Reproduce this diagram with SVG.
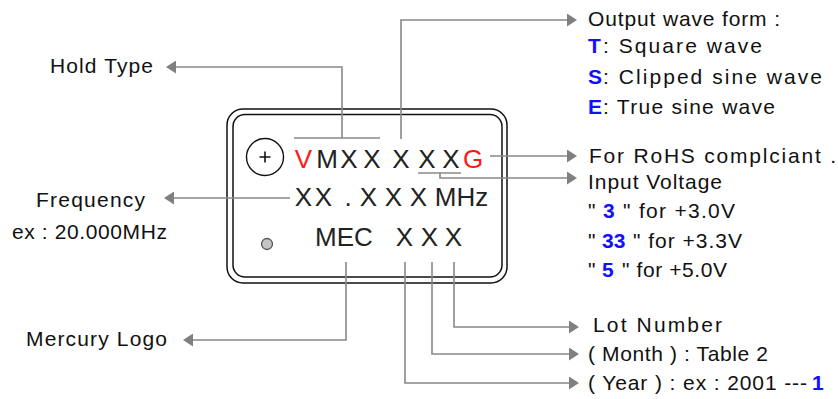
<svg xmlns="http://www.w3.org/2000/svg" width="838" height="399" viewBox="0 0 838 399">
<style>
  .lbl { font-family: "Liberation Sans", Arial, sans-serif; font-size: 21px; fill: #111; }
  .key { font-family: "Liberation Sans", Arial, sans-serif; font-size: 21px; font-weight: bold; fill: #1010ff; }
  .chip { font-family: "Liberation Sans", Arial, sans-serif; font-size: 26px; fill: #222; text-anchor: middle; }
  .red { fill: #ff1a1a; }
  .box { fill: none; stroke: #111; stroke-width: 1.5; }
  .con { fill: none; stroke: #888; stroke-width: 1.6; }
</style>
<defs>
  <marker id="arr" viewBox="0 0 10 13" refX="0" refY="6.5" markerWidth="10" markerHeight="13" markerUnits="userSpaceOnUse" orient="auto">
    <path d="M0,0 L10,6.5 L0,13 Z" fill="#808080"/>
  </marker>
</defs>
<rect width="838" height="399" fill="#fff"/>

<g id="chip">
  <rect class="box" x="227" y="109" width="280" height="174" rx="16" ry="16"/>
  <rect class="box" x="233" y="114.5" width="269" height="162.5" rx="12" ry="12"/>
  <circle cx="265" cy="157" r="18.5" fill="none" stroke="#111" stroke-width="1.4"/>
  <path d="M259.5,157 H270.5 M265,151.5 V162.5" stroke="#111" stroke-width="1.6"/>
  <circle cx="267" cy="244" r="5.5" fill="#c4c4c4" stroke="#555" stroke-width="1.3"/>
  <text class="chip" y="168"><tspan class="red" x="303.5">V</tspan><tspan x="327 349 372">MXX</tspan><tspan x="401">X</tspan><tspan x="427 451">XX</tspan><tspan class="red" x="473">G</tspan></text>
  <text class="chip" y="206"><tspan x="303.5 323.5">XX</tspan><tspan x="348">.</tspan><tspan x="368.5 393.5 418.5">XXX</tspan><tspan x="461.5">MHz</tspan></text>
  <text class="chip" y="246"><tspan x="344">MEC</tspan><tspan x="404.5 429.5 453.5">XXX</tspan></text>
</g>

<g id="connectors">
  <path class="con" d="M294,138 H380"/>
  <polyline class="con" points="342,138 342,67 176,67" marker-end="url(#arr)"/>
  <polyline class="con" points="401,139 401,20 567,20" marker-end="url(#arr)"/>
  <polyline class="con" points="490,156 567,156" marker-end="url(#arr)"/>
  <path class="con" d="M418,173 H461"/>
  <polyline class="con" points="440,173 440,178 567,178" marker-end="url(#arr)"/>
  <polyline class="con" points="290,198 174,198" marker-end="url(#arr)"/>
  <polyline class="con" points="346,262 346,340 193,340" marker-end="url(#arr)"/>
  <polyline class="con" points="454,262 454,327 569,327" marker-end="url(#arr)"/>
  <polyline class="con" points="432,262 432,354 569,354" marker-end="url(#arr)"/>
  <polyline class="con" points="405,262 405,383 569,383" marker-end="url(#arr)"/>
</g>

<g id="hold-type">
  <text class="lbl" x="50" y="73" textLength="103" lengthAdjust="spacing">Hold Type</text>
</g>
<g id="frequency">
  <text class="lbl" x="36" y="207" textLength="109" lengthAdjust="spacing">Frequency</text>
  <text class="lbl" x="12" y="239" textLength="155" lengthAdjust="spacing">ex : 20.000MHz</text>
</g>
<g id="mercury-logo">
  <text class="lbl" x="26" y="346" textLength="141" lengthAdjust="spacing">Mercury  Logo</text>
</g>

<g id="output-wave-form">
  <text class="lbl" x="588" y="26" textLength="192" lengthAdjust="spacing">Output wave form :</text>
  <text class="key" x="588" y="53">T</text>
  <text class="lbl" x="603" y="53" textLength="159" lengthAdjust="spacing">: Square wave</text>
  <text class="key" x="588" y="84">S</text>
  <text class="lbl" x="603" y="84" textLength="219" lengthAdjust="spacing">: Clipped sine wave</text>
  <text class="key" x="588" y="114">E</text>
  <text class="lbl" x="603" y="114" textLength="172" lengthAdjust="spacing">: True sine wave</text>
</g>

<g id="rohs">
  <text class="lbl" x="589" y="163" textLength="247" lengthAdjust="spacing">For RoHS complciant .</text>
</g>

<g id="input-voltage">
  <text class="lbl" x="588" y="189" textLength="134" lengthAdjust="spacing">Input Voltage</text>
  <text class="lbl" x="588" y="218">"</text>
  <text class="key" x="603" y="218">3</text>
  <text class="lbl" x="623" y="218" textLength="112" lengthAdjust="spacing">" for +3.0V</text>
  <text class="lbl" x="588" y="248">"</text>
  <text class="key" x="602" y="248">33</text>
  <text class="lbl" x="633" y="248" textLength="109" lengthAdjust="spacing">" for +3.3V</text>
  <text class="lbl" x="588" y="277">"</text>
  <text class="key" x="602" y="277">5</text>
  <text class="lbl" x="622" y="277" textLength="105" lengthAdjust="spacing">" for +5.0V</text>
</g>

<g id="lot-number">
  <text class="lbl" x="593" y="332" textLength="129" lengthAdjust="spacing">Lot  Number</text>
</g>
<g id="month">
  <text class="lbl" x="588" y="361" textLength="180" lengthAdjust="spacing">( Month ) : Table 2</text>
</g>
<g id="year">
  <text class="lbl" x="588" y="390" textLength="219" lengthAdjust="spacing">( Year ) :  ex : 2001 ---</text>
  <text class="key" x="812" y="390">1</text>
</g>
</svg>
